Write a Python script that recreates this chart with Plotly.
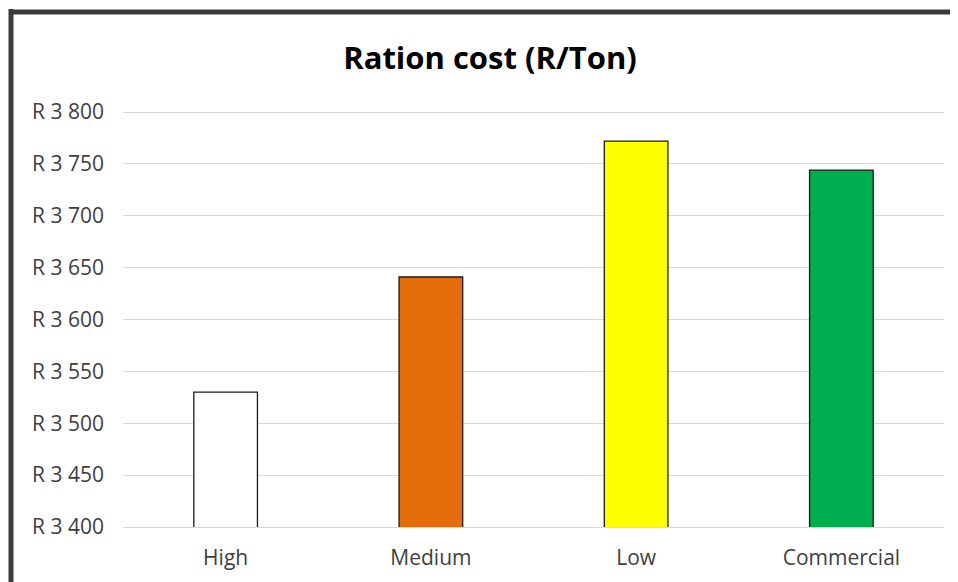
import plotly.graph_objects as go

categories = ["High", "Medium", "Low", "Commercial"]
values = [3530, 3641, 3772, 3744]
colors = ["#FFFFFF", "#E46C0A", "#FFFF00", "#00B050"]
tick_vals = [3400, 3450, 3500, 3550, 3600, 3650, 3700, 3750, 3800]
tick_text = ["R 3 400", "R 3 450", "R 3 500", "R 3 550", "R 3 600",
             "R 3 650", "R 3 700", "R 3 750", "R 3 800"]

OFF = 8  # page body margin
W, H = 958 - OFF, 582 - OFF
L, R, T, B = 123 - OFF, 958 - 944, 111 - OFF, 582 - 527
pw, ph = W - L - R, H - T - B

def px(x):
    return (x - OFF - L) / pw

def py(y):
    return 1 - (y - OFF - T) / ph

fig = go.Figure(go.Bar(
    x=categories, y=values,
    marker=dict(color=colors, line=dict(color="#1a1a1a", width=1.3)),
    width=0.31,
))

fig.update_layout(
    width=W, height=H,
    margin=dict(l=L, r=R, t=T, b=B),
    paper_bgcolor="white", plot_bgcolor="white",
    showlegend=False,
    title=dict(text="<b>Ration cost (R/Ton)</b>", xref="container", x=(490 - OFF) / W,
               xanchor="center", y=1 - (58 - OFF) / H, yanchor="middle",
               font=dict(family="Open Sans, Liberation Sans, sans-serif", size=31, color="#000000")),
    font=dict(family="Open Sans, Liberation Sans, sans-serif", color="#404040"),
    xaxis=dict(showgrid=False, showline=True, linecolor="#d9d9d9", linewidth=1,
               tickfont=dict(size=21, color="#404040"), ticks="", ticklabelstandoff=12),
    yaxis=dict(range=[3400, 3801], tickvals=tick_vals, ticktext=tick_text,
               showgrid=True, gridcolor="#d9d9d9", gridwidth=1, zeroline=False,
               tickfont=dict(size=21, color="#404040"), ticks="", ticklabelstandoff=18),
    bargap=0.69,
    shapes=[
        dict(type="line", xref="paper", yref="paper", x0=px(11), x1=px(11),
             y0=py(9), y1=py(600), line=dict(color="#3a3a3a", width=5)),
        dict(type="line", xref="paper", yref="paper", x0=px(9), x1=px(970),
             y0=py(12), y1=py(12), line=dict(color="#3a3a3a", width=5)),
    ],
)

fig.write_html("out.html")
